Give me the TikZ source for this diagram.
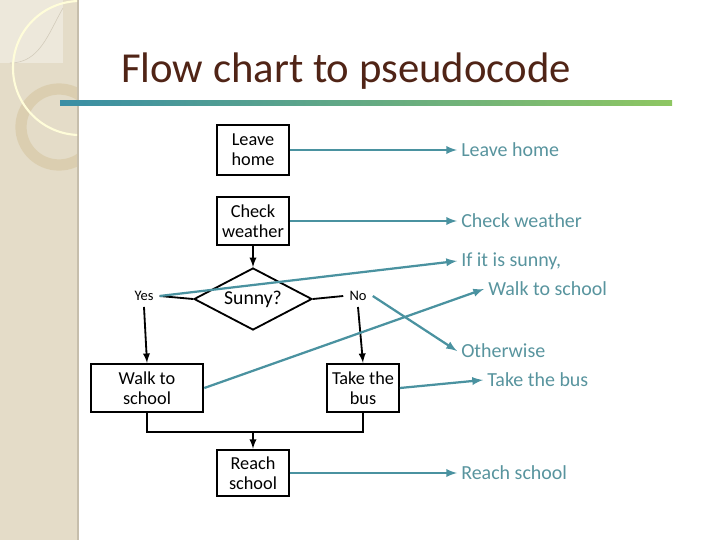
\documentclass[tikz,border=0pt]{standalone}
\usepackage{fontspec}
\setmainfont{Carlito}
\usepackage{tikz}
\usetikzlibrary{shapes.geometric, positioning, arrows}

\definecolor{barbeige}{RGB}{228,220,200}
\definecolor{baredge}{RGB}{198,190,172}
\definecolor{ringtan}{RGB}{214,198,160}
\definecolor{titlebrown}{RGB}{80,36,22}
\definecolor{linkteal}{RGB}{74,146,160}
\definecolor{textteal}{RGB}{88,148,158}
\definecolor{rulegreen}{RGB}{142,198,98}
\definecolor{ruleblue}{RGB}{58,142,165}

\begin{document}
\begin{tikzpicture}[x=0.25mm, y=-0.25mm,
                process/.style={rectangle, draw, line width=1.3pt, inner sep=0pt, minimum width=18mm, minimum height=12.3mm, align=center, font=\fontsize{13}{14.2}\selectfont},
                decision/.style={diamond, draw, line width=1.3pt, inner sep=0pt, aspect=2.2, minimum width=29.5mm, minimum height=15.5mm, font=\fontsize{14}{16}\selectfont},
                branch/.style={inner sep=1.5mm, font=\fontsize{10.3}{12}\selectfont},
                pseudo/.style={anchor=west, inner sep=1mm, text=textteal, font=\fontsize{14.2}{16}\selectfont},
                paths/.style={line width=1.3pt, -latex},
                links/.style={line width=1.6pt, draw=linkteal, -latex}
            ]
                \useasboundingbox (0,0) rectangle (720,540);

                % Background: side bar and rings
                \fill[barbeige] (0,0) rectangle (77,540);
                \fill[baredge] (77,0) rectangle (79,540);
                \begin{scope}
                    \clip (0,0) rectangle (77,540);
                    \fill[white, opacity=0.35] (0,0) rectangle (63,63);
                    \draw[baredge, opacity=0.7] (63,8) to[out=240, in=0] (10,63);
                    \draw[ringtan, line width=8pt, opacity=0.6] (59,127) circle (38);
                    \draw[white!85!yellow, line width=1.5pt] (80,68) circle (67);
                \end{scope}

                % Title and rule
                \node[text=titlebrown, font=\fontsize{30.4}{34}\selectfont] (title) at (346,71) {Flow chart to pseudocode};
                \shade[left color=ruleblue, right color=rulegreen] (60,100) rectangle (672,105);

                % Flow chart nodes
                \node[process] (home) at (253,150) {Leave\\home};
                \node[process, minimum height=12.1mm] (weather) at (253,221) {Check\\weather};
                \node[decision] (sunny) at (253,299) {Sunny?};
                \node[branch] (yes) at (144,296) {Yes};
                \node[branch] (no) at (358,296) {No};
                \node[process, minimum width=28.2mm, minimum height=12.1mm] (walk) at (147,388) {Walk to\\school};
                \node[process, minimum height=12.1mm] (bus) at (363,388) {Take the\\bus};
                \node[process, minimum height=11.7mm] (reach) at (253,473) {Reach\\school};
                \coordinate (join) at (253,432);

                % Pseudocode lines
                \node[pseudo] (p-home) at (457,150) {Leave home};
                \node[pseudo] (p-weather) at (457,221) {Check weather};
                \node[pseudo] (p-if) at (457,261) {If it is sunny,};
                \node[pseudo] (p-walk) at (484,289) {Walk to school};
                \node[pseudo] (p-else) at (457,351) {Otherwise};
                \node[pseudo] (p-bus) at (483,380) {Take the bus};
                \node[pseudo] (p-reach) at (457,473) {Reach school};

                % Paths: flow chart
                \draw[paths] (weather) -- (sunny);
                \draw[line width=1.3pt] (sunny.west) -- (yes.east);
                \draw[line width=1.3pt] (sunny.east) -- (no.west);
                \draw[paths] (yes.south) -- (walk.north);
                \draw[paths] (no.south) -- (bus.north);
                \draw[line width=1.3pt] (walk.south) |- (join) -| (bus.south);
                \draw[paths] (join) -- (reach);

                % Paths: chart to pseudocode
                \draw[links] (home.east) -- (p-home.west);
                \draw[links] (weather.east) -- (p-weather.west);
                \draw[links] (yes.east) -- (p-if.west);
                \draw[links] (walk.east) -- (p-walk.west);
                \draw[links] (no.east) -- (p-else.west);
                \draw[links] (bus.east) -- (p-bus.west);
                \draw[links] (reach.east) -- (p-reach.west);
            \end{tikzpicture}
\end{document}
